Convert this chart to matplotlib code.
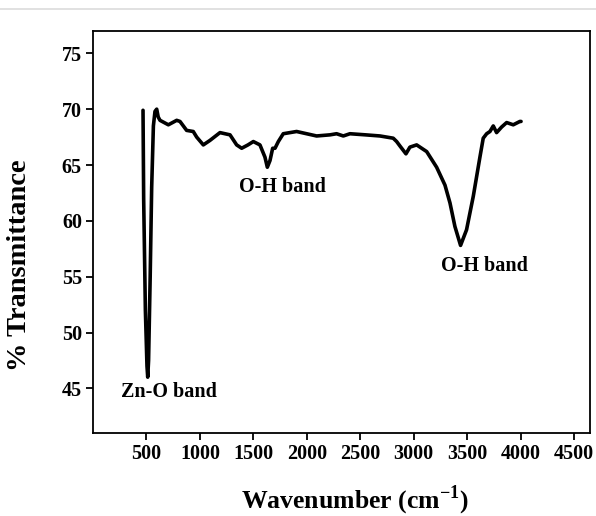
import matplotlib
matplotlib.use('Agg')
import matplotlib.pyplot as plt
from matplotlib.lines import Line2D
import numpy as np

# FTIR spectrum (wavenumber in cm-1, % transmittance)
wavenumber = [468, 474, 490, 505, 512, 520, 535, 549, 565, 580, 596, 610, 627,
              705, 783, 814, 876, 938, 970, 1032, 1094, 1188, 1235, 1282, 1344,
              1391, 1450, 1500, 1562, 1609, 1631, 1656, 1681, 1703, 1734, 1780,
              1905, 2092, 2217, 2279, 2342, 2404, 2550, 2685, 2809, 2841, 2872,
              2928, 2965, 3028, 3122, 3215, 3293, 3340, 3386, 3439, 3495, 3558,
              3620, 3651, 3683, 3714, 3745, 3776, 3823, 3870, 3932, 3994, 4005]
transmittance = [69.9, 62.0, 52.0, 47.0, 46.0, 47.5, 55.0, 63.0, 68.5, 69.8,
                 70.0, 69.3, 69.0, 68.6, 69.0, 68.9, 68.1, 68.0, 67.5, 66.8,
                 67.2, 67.9, 67.8, 67.7, 66.8, 66.5, 66.8, 67.1, 66.8, 65.7,
                 64.8, 65.4, 66.5, 66.5, 67.1, 67.8, 68.0, 67.6, 67.7, 67.8,
                 67.6, 67.8, 67.7, 67.6, 67.4, 67.1, 66.7, 66.0, 66.6, 66.8,
                 66.2, 64.8, 63.2, 61.6, 59.5, 57.8, 59.2, 62.2, 65.7, 67.4,
                 67.8, 68.0, 68.5, 67.9, 68.4, 68.8, 68.6, 68.9, 68.9]

band_labels = ['Zn-O band', 'O-H band', 'O-H band']
band_x = [706, 1768, 3662]
band_y = [44.7, 63.0, 56.0]

x_ticks = [500, 1000, 1500, 2000, 2500, 3000, 3500, 4000, 4500]
y_ticks = [45, 50, 55, 60, 65, 70, 75]

plt.rcParams['font.family'] = 'Liberation Serif'
plt.rcParams['font.weight'] = 'bold'
plt.rcParams['mathtext.fontset'] = 'custom'
plt.rcParams['mathtext.rm'] = 'Liberation Serif:bold'
plt.rcParams['mathtext.bf'] = 'Liberation Serif:bold'

fig = plt.figure(figsize=(5.96, 5.16), dpi=100)
ax = fig.add_axes([93/596, 1-433/516, 497/596, 402/516])

ax.plot(wavenumber, transmittance, color='black', lw=2.6,
        solid_joinstyle='round', solid_capstyle='round')

for lbl, bx, by in zip(band_labels, band_x, band_y):
    ax.text(bx, by, lbl, ha='center', va='center', fontsize=14.5,
            fontweight='bold')

ax.set_xlim(0, 4650)
ax.set_ylim(41, 77)
ax.set_xticks(x_ticks)
ax.set_yticks(y_ticks)
ax.tick_params(direction='out', length=5, width=1.3, labelsize=14.5, pad=3)
for s in ax.spines.values():
    s.set_linewidth(1.3)

# axis titles placed in figure pixels
fig.text(355/596, 1-500/516, r'Wavenumber (cm$^{\mathbf{-1}}$)', fontsize=18.5,
         fontweight='bold', ha='center', va='center')
fig.text(20/596, 1-265/516, '% Transmittance', fontsize=20.5,
         fontweight='bold', ha='center', va='center', rotation=90)

# faint frame line at the very top of the picture
fig.add_artist(Line2D([0, 1], [1-8.5/516, 1-8.5/516], transform=fig.transFigure,
                      color='#dcdcdc', lw=1.2))

fig.savefig('out.png', dpi=100)
